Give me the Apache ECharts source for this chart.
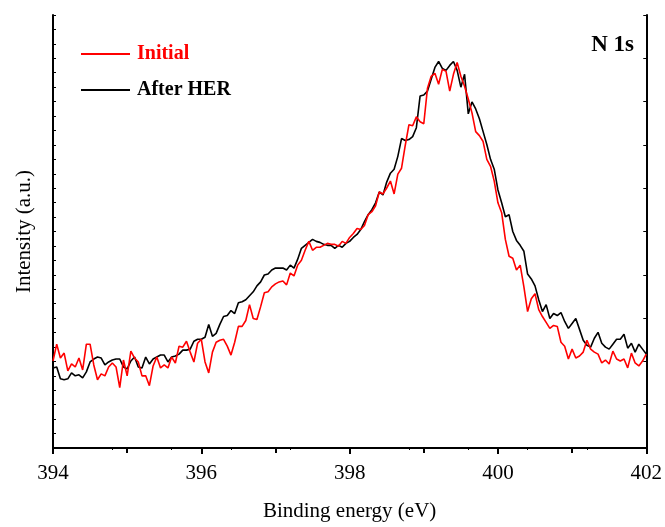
<!DOCTYPE html>
<html>
<head>
<meta charset="utf-8">
<script src="https://cdn.jsdelivr.net/npm/echarts@6/dist/echarts.min.js"></script>
<style>html,body{margin:0;padding:0;background:#fff}#c{width:665px;height:527px}</style>
</head>
<body>
<div id="c"></div>
<script>
var energies = [394.00,394.05,394.10,394.15,394.20,394.25,394.30,394.35,394.40,394.45,394.50,394.55,394.60,394.65,394.70,394.75,394.80,394.85,394.90,394.95,
395.00,395.05,395.10,395.15,395.20,395.25,395.30,395.35,395.40,395.45,395.50,395.55,395.60,395.65,395.70,395.75,395.80,395.85,395.90,395.95,
396.00,396.05,396.10,396.15,396.20,396.25,396.30,396.35,396.40,396.45,396.50,396.55,396.60,396.65,396.70,396.75,396.80,396.85,396.90,396.95,
397.00,397.05,397.10,397.15,397.20,397.25,397.30,397.35,397.40,397.45,397.50,397.55,397.60,397.65,397.70,397.75,397.80,397.85,397.90,397.95,
398.00,398.05,398.10,398.15,398.20,398.25,398.30,398.35,398.40,398.45,398.50,398.55,398.60,398.65,398.70,398.75,398.80,398.85,398.90,398.95,
399.00,399.05,399.10,399.15,399.20,399.25,399.30,399.35,399.40,399.45,399.50,399.55,399.60,399.65,399.70,399.75,399.80,399.85,399.90,399.95,
400.00,400.05,400.10,400.15,400.20,400.25,400.30,400.35,400.40,400.45,400.50,400.55,400.60,400.65,400.70,400.75,400.80,400.85,400.90,400.95,
401.00,401.05,401.10,401.15,401.20,401.25,401.30,401.35,401.40,401.45,401.50,401.55,401.60,401.65,401.70,401.75,401.80,401.85,401.90,401.95,402.00];

var initial = [88,105,91,96,78,85,82,91,79,105,105,84,69,75,73,82,86,82,61,89,
73,98,91,87,73,73,63,83,92,81,84,81,92,86,103,102,108,97,87,106,
110,87,76,97,107,109,110,103,94,107,123,123,129,145,131,130,143,157,158,163,
166,168,169,165,177,174,185,190,200,209,200,203,203,205,207,206,206,204,209,207,
213,217,222,221,225,236,239,245,259,257,263,270,257,277,283,306,327,326,335,330,
328,364,376,379,368,383,381,361,378,390,376,366,353,339,320,316,310,292,285,270,
248,238,211,194,192,180,185,163,138,151,156,140,133,127,121,124,123,107,103,90,
100,91,93,97,109,100,97,95,86,89,85,98,90,88,90,81,96,86,83,88,95];

var afterHER = [81,82,70,69,70,76,73,74,71,77,87,90,92,91,84,87,89,90,90,82,
80,88,92,82,81,92,85,90,92,94,94,87,92,93,95,99,99,100,108,110,
110,112,125,113,116,125,133,134,139,136,147,148,150,154,158,164,168,175,176,180,
182,182,182,180,185,182,191,202,205,208,211,209,208,206,205,205,202,205,203,207,
209,213,216,221,229,236,241,248,259,256,269,278,282,295,313,311,312,315,324,356,
357,361,373,385,391,384,382,387,391,382,365,378,338,350,343,333,320,307,292,282,
261,248,234,236,219,210,205,199,176,171,164,150,138,145,131,136,134,137,128,121,
126,131,120,109,104,102,111,117,106,102,100,105,110,110,115,101,106,97,105,100,95];

var xTicks = [394, 396, 398, 400, 402];
var seriesNames = ['Initial', 'After HER'];
var panelLabel = 'N 1s';

function pairs(xs, ys){ return xs.map(function(x,i){ return [x, ys[i]]; }); }

var serif = 'Liberation Serif';
var chart = echarts.init(document.getElementById('c'), null, {renderer:'canvas'});
chart.setOption({
  animation: false,
  backgroundColor: '#fff',
  grid: {left: 53, top: 15, right: 18, bottom: 74, containLabel: false},
  title: {text: panelLabel, right: 26, top: 29,
    textStyle: {fontFamily: serif, fontWeight: 'bold', fontSize: 23, color: '#000'}},
  legend: {
    orient: 'vertical', left: 76, top: 37, itemWidth: 49, itemHeight: 2, itemGap: 12,
    icon: 'rect',
    textStyle: {fontFamily: serif, fontWeight: 'bold', fontSize: 20, lineHeight: 24, padding: [0,0,0,2]},
    data: [
      {name: seriesNames[0], textStyle: {color: '#ff0000'}},
      {name: seriesNames[1], textStyle: {color: '#000000'}}
    ]
  },
  xAxis: [{
    type: 'value', min: xTicks[0], max: xTicks[xTicks.length-1], interval: 2,
    name: 'Binding energy (eV)', nameLocation: 'middle', nameGap: 53,
    nameTextStyle: {fontFamily: serif, fontSize: 21, color: '#000'},
    axisLine: {onZero: false, lineStyle: {color: '#000', width: 2}},
    axisTick: {inside: false, length: 6, lineStyle: {color: '#000', width: 2}},
    minorTick: {show: true, splitNumber: 2, length: 5, lineStyle: {color: '#000', width: 2}},
    axisLabel: {fontFamily: serif, fontSize: 21, color: '#000', margin: 15},
    splitLine: {show: false}
  }, {
    type: 'value', position: 'top', min: 394, max: 402, interval: 0.8,
    axisLine: {show: true, lineStyle: {color: '#000', width: 2}},
    axisTick: {inside: true, length: 2, lineStyle: {color: '#000', width: 1}},
    axisLabel: {show: false}, splitLine: {show: false}
  }],
  yAxis: [{
    type: 'value', min: 0, max: 438, interval: 14.6,
    name: 'Intensity (a.u.)', nameLocation: 'middle', nameGap: 18,
    nameTextStyle: {fontFamily: serif, fontSize: 21, color: '#000'},
    axisLine: {show: true, onZero: false, lineStyle: {color: '#000', width: 2}},
    axisTick: {show: true, inside: true, length: 3, lineStyle: {color: '#000', width: 1}},
    axisLabel: {show: false}, splitLine: {show: false}
  }, {
    type: 'value', position: 'right', min: 0, max: 438, interval: 43.8,
    axisLine: {show: true, lineStyle: {color: '#000', width: 2}},
    axisTick: {show: true, inside: true, length: 3, lineStyle: {color: '#000', width: 1}},
    axisLabel: {show: false}, splitLine: {show: false}
  }],
  series: [
    {name: seriesNames[1], type: 'line', data: pairs(energies, afterHER), showSymbol: false, symbol: 'none',
     lineStyle: {color: '#000', width: 1.6}, itemStyle: {color: '#000'}, z: 2},
    {name: seriesNames[0], type: 'line', data: pairs(energies, initial), showSymbol: false, symbol: 'none',
     lineStyle: {color: '#ff0000', width: 1.6}, itemStyle: {color: '#ff0000'}, z: 3}
  ]
});
</script>
</body>
</html>
